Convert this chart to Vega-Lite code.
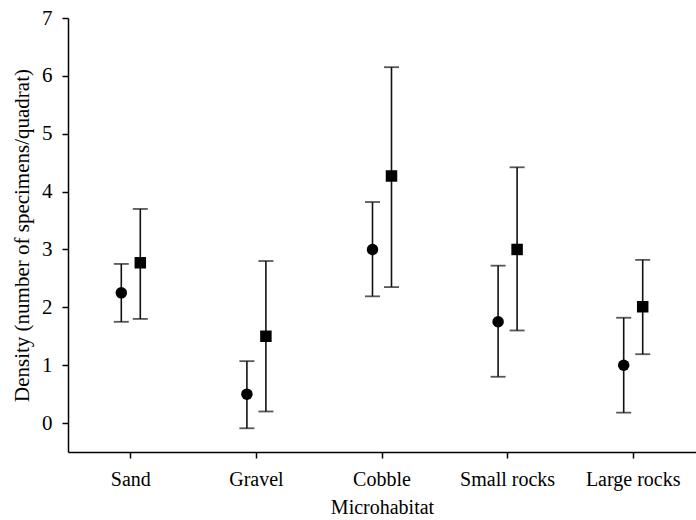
{
  "$schema": "https://vega.github.io/schema/vega-lite/v6.json",
  "width": 628,
  "height": 434,
  "autosize": {"type": "none"},
  "padding": {"left": 68, "top": 18, "right": 0, "bottom": 68},
  "background": "white",
  "config": {
    "view": {"stroke": null},
    "font": "Liberation Serif",
    "axis": {
      "labelFont": "Liberation Serif",
      "titleFont": "Liberation Serif",
      "labelFontSize": 20,
      "titleFontSize": 20,
      "titleFontWeight": "normal",
      "labelColor": "black",
      "titleColor": "black",
      "domainColor": "black",
      "domainWidth": 1.5,
      "tickColor": "black",
      "tickWidth": 1.5,
      "tickSize": 6,
      "grid": false
    }
  },
  "data": {
    "values": [
      {"habitat": "Sand", "group": "A", "mean": 2.25, "lo": 1.75, "hi": 2.75},
      {"habitat": "Sand", "group": "B", "mean": 2.77, "lo": 1.8, "hi": 3.7},
      {"habitat": "Gravel", "group": "A", "mean": 0.5, "lo": -0.09, "hi": 1.07},
      {"habitat": "Gravel", "group": "B", "mean": 1.5, "lo": 0.2, "hi": 2.8},
      {"habitat": "Cobble", "group": "A", "mean": 3.0, "lo": 2.19, "hi": 3.82},
      {"habitat": "Cobble", "group": "B", "mean": 4.27, "lo": 2.35, "hi": 6.15},
      {"habitat": "Small rocks", "group": "A", "mean": 1.75, "lo": 0.8, "hi": 2.72},
      {"habitat": "Small rocks", "group": "B", "mean": 3.0, "lo": 1.6, "hi": 4.42},
      {"habitat": "Large rocks", "group": "A", "mean": 1.0, "lo": 0.18, "hi": 1.82},
      {"habitat": "Large rocks", "group": "B", "mean": 2.01, "lo": 1.19, "hi": 2.82}
    ]
  },
  "encoding": {
    "x": {
      "field": "habitat",
      "type": "nominal",
      "sort": ["Sand", "Gravel", "Cobble", "Small rocks", "Large rocks"],
      "scale": {"type": "band", "paddingInner": 0, "paddingOuter": 0},
      "axis": {"title": "Microhabitat", "labelAngle": 0, "labelPadding": 11, "titlePadding": 8, "bandPosition": 0.5}
    },
    "xOffset": {
      "field": "group",
      "type": "nominal",
      "scale": {"type": "point", "padding": 0, "range": [53.3, 72.3]}
    }
  },
  "layer": [
    {
      "mark": {"type": "rule", "color": "#111", "strokeWidth": 1.6},
      "encoding": {
        "y": {
          "field": "lo",
          "type": "quantitative",
          "scale": {"domain": [-0.5, 7], "nice": false, "zero": false},
          "axis": {"title": "Density (number of specimens/quadrat)", "values": [0, 1, 2, 3, 4, 5, 6, 7], "format": "d", "labelFontSize": 21, "labelPadding": 10, "titlePadding": 9, "titleFontSize": 21}
        },
        "y2": {"field": "hi"}
      }
    },
    {
      "mark": {"type": "tick", "color": "#111", "size": 15, "thickness": 1.8, "orient": "horizontal"},
      "encoding": {"y": {"field": "lo", "type": "quantitative"}}
    },
    {
      "mark": {"type": "tick", "color": "#111", "size": 15, "thickness": 1.8, "orient": "horizontal"},
      "encoding": {"y": {"field": "hi", "type": "quantitative"}}
    },
    {
      "mark": {"type": "point", "filled": true, "opacity": 1, "size": 132, "color": "black"},
      "encoding": {
        "y": {"field": "mean", "type": "quantitative"},
        "shape": {"field": "group", "type": "nominal", "scale": {"domain": ["A", "B"], "range": ["circle", "square"]}, "legend": null}
      }
    }
  ]
}
